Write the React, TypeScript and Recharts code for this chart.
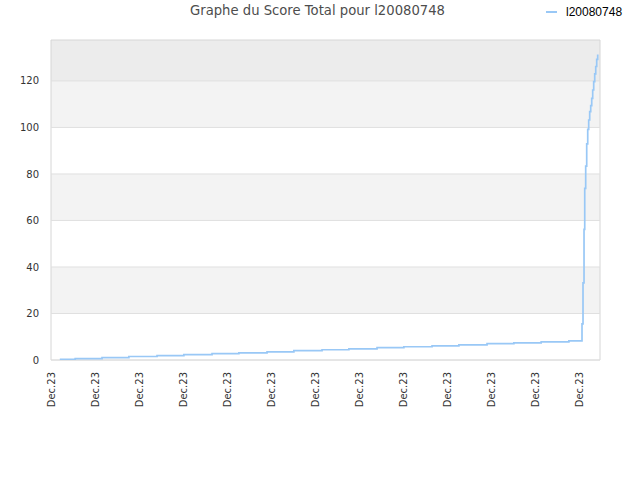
import React from "react";
import {
  LineChart,
  Line,
  XAxis,
  YAxis,
  ReferenceArea,
  ReferenceLine,
} from "recharts";

// x positions (tick units, one unit per "Dec.23" tick)
const times = [
  0.2, 0.55, 1.16, 1.77, 2.41, 3.02, 3.66, 4.27, 4.91, 5.52, 6.16, 6.77, 7.41,
  8.02, 8.66, 9.27, 9.91, 10.52, 11.14, 11.77, 12.068, 12.091, 12.114, 12.13,
  12.152, 12.175, 12.198, 12.22, 12.243, 12.266, 12.289, 12.311, 12.334,
  12.357, 12.38, 12.402, 12.425, 12.445,
];
const scores = [
  0.3, 0.6, 1.0, 1.5, 1.9, 2.3, 2.7, 3.1, 3.5, 4.0, 4.4, 4.8, 5.3, 5.7, 6.1,
  6.5, 7.0, 7.4, 7.8, 8.2, 15.5, 33.2, 56.2, 73.8, 83.4, 92.9, 99.2, 103.2,
  106.8, 109.4, 112.5, 116.1, 119.7, 123.0, 126.2, 129.3, 131.0, 131.0,
];
const xTicks = [0, 1, 2, 3, 4, 5, 6, 7, 8, 9, 10, 11, 12];
const xTickLabels = [
  "Dec.23", "Dec.23", "Dec.23", "Dec.23", "Dec.23", "Dec.23", "Dec.23",
  "Dec.23", "Dec.23", "Dec.23", "Dec.23", "Dec.23", "Dec.23",
];
const yTicks = [0, 20, 40, 60, 80, 100, 120];
const xMax = 12.477;
const yMax = 137.6;
const bandFrom = [20, 60, 100, 120];
const bandTo = [40, 80, 120, 137.6];
const bandColors = ["#f3f3f3", "#f3f3f3", "#f3f3f3", "#ececec"];
const seriesName = "l20080748";
const title = "Graphe du Score Total pour l20080748";

const data = times.map((t, i) => ({ t, score: scores[i] }));
const bands = bandFrom.map((y1, i) => ({ y1, y2: bandTo[i], fill: bandColors[i] }));

const LINE_COLOR = "#99c8f6";

const XTick = (props: any) => {
  const { x, y, index } = props;
  return (
    <g transform={`translate(${x},${y})`}>
      <text
        transform="rotate(-90)"
        x={-12}
        y={0}
        dy="0.35em"
        textAnchor="end"
        fill="#333"
        fontSize={10}
        fontFamily="DejaVu Sans"
      >
        {xTickLabels[index] ?? "Dec.23"}
      </text>
    </g>
  );
};

export default function App() {
  return (
    <div style={{ position: "absolute", left: 0, top: 0, width: 640, height: 480, background: "#fff" }}>
      <div
        style={{
          position: "absolute",
          left: 0,
          width: 635,
          top: 3,
          textAlign: "center",
          fontFamily: "DejaVu Sans",
          fontSize: 13.2,
          color: "#4d4d4d",
          zIndex: 2,
        }}
      >
        {title}
      </div>
      <div
        style={{
          position: "absolute",
          left: 546,
          top: 5,
          display: "flex",
          alignItems: "center",
          fontFamily: "Liberation Sans",
          fontSize: 12,
          color: "#000",
          zIndex: 2,
        }}
      >
        <svg width={11} height={4} style={{ marginRight: 9 }}>
          <line x1={0} y1={2} x2={11} y2={2} stroke={LINE_COLOR} strokeWidth={2} />
        </svg>
        <span>{seriesName}</span>
      </div>
      <LineChart
        width={640}
        height={480}
        data={data}
        margin={{ top: 40, right: 40, bottom: 60, left: 0 }}
      >
        {bands.map((b, i) => (
          <ReferenceArea
            key={`band-${i}`}
            x1={0}
            x2={xMax}
            y1={b.y1}
            y2={b.y2}
            fill={b.fill}
            fillOpacity={1}
            stroke="none"
            ifOverflow="hidden"
          />
        ))}
        {yTicks.map((v) => (
          <ReferenceLine key={`g-${v}`} y={v} stroke="#e0e0e0" strokeWidth={1} />
        ))}
        <ReferenceArea
          x1={0}
          x2={xMax}
          y1={0}
          y2={yMax}
          fill="none"
          fillOpacity={0}
          stroke="#d6d6d6"
          strokeWidth={1}
        />
        <XAxis
          dataKey="t"
          type="number"
          domain={[0, xMax]}
          ticks={xTicks}
          interval={0}
          allowDataOverflow
          axisLine={false}
          tickLine={false}
          tickSize={0}
          tickMargin={0}
          height={60}
          tick={<XTick />}
        />
        <YAxis
          type="number"
          domain={[0, yMax]}
          ticks={yTicks}
          allowDataOverflow
          axisLine={false}
          tickLine={false}
          tickSize={0}
          tickMargin={12}
          width={51}
          tick={{ fill: "#333", fontSize: 10, fontFamily: "DejaVu Sans" }}
        />
        <Line
          type="stepAfter"
          dataKey="score"
          name={seriesName}
          stroke={LINE_COLOR}
          strokeWidth={1.7}
          dot={false}
          activeDot={false}
          isAnimationActive={false}
        />
      </LineChart>
    </div>
  );
}
